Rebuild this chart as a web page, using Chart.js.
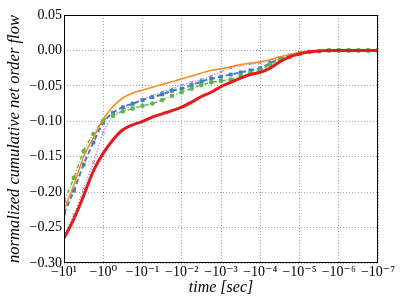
<!DOCTYPE html>
<html>
<head>
<meta charset="utf-8">
<script src="https://cdn.jsdelivr.net/npm/chart.js@4.4.1/dist/chart.umd.min.js"></script>
<style>
html, body { margin: 0; padding: 0; background: #fff; }
</style>
</head>
<body>
<canvas id="myChart" width="407" height="307"></canvas>
<script>
// x: exponent e of the time, t = -10^e sec
var timeExp = [1, 0.75, 0.5, 0.25, 0, -0.25, -0.5, -0.75, -1, -1.25, -1.5, -1.75, -2, -2.25, -2.5, -2.75, -3,
    -3.25, -3.5, -3.75, -4, -4.25, -4.5, -4.75, -5, -5.25, -5.5, -5.75, -6, -6.25, -6.5, -6.75, -7];

var redFlow = [-0.265, -0.238, -0.205, -0.170, -0.145, -0.126, -0.112, -0.105, -0.100, -0.094, -0.0895, -0.085, -0.080,
    -0.073, -0.065, -0.059, -0.051, -0.045, -0.039, -0.034, -0.031, -0.025, -0.016, -0.009, -0.005, -0.002, -0.001,
    0, 0, 0, 0, 0, 0];
var orangeFlow = [-0.225, -0.190, -0.150, -0.123, -0.097, -0.079, -0.067, -0.060, -0.056, -0.052, -0.048, -0.044, -0.040,
    -0.036, -0.032, -0.028, -0.026, -0.023, -0.020, -0.018, -0.016, -0.013, -0.009, -0.006, -0.003, -0.0015, -0.0005,
    0, 0, 0, 0, 0, 0];
var greenFlow = [-0.213, -0.180, -0.142, -0.118, -0.099, -0.092, -0.086, -0.082, -0.078, -0.075, -0.070, -0.064, -0.059,
    -0.054, -0.049, -0.045, -0.043, -0.041, -0.036, -0.032, -0.028, -0.020, -0.013, -0.009, -0.005, -0.002, -0.001,
    0, 0, 0, 0, 0, 0];
var blueFlow = [-0.230, -0.198, -0.161, -0.130, -0.102, -0.088, -0.080, -0.075, -0.070, -0.066, -0.062, -0.057, -0.054,
    -0.049, -0.044, -0.040, -0.037, -0.034, -0.031, -0.028, -0.025, -0.018, -0.012, -0.008, -0.004, -0.002, -0.001,
    0, 0, 0, 0, 0, 0];
var purpleFlow = [-0.262, -0.232, -0.195, -0.158, -0.116, -0.093, -0.084, -0.077, -0.069, -0.064, -0.059, -0.054, -0.049,
    -0.045, -0.041, -0.036, -0.030, -0.025, -0.021, -0.019, -0.018, -0.014, -0.010, -0.006, -0.003, -0.0015, -0.0005,
    0, 0, 0, 0, 0, 0];

var supers = {'0': '⁰', '1': '¹', '2': '²', '3': '³', '4': '⁴', '5': '⁵', '6': '⁶', '7': '⁷', '8': '⁸', '9': '⁹', '-': '⁻'};

function pts(ys) {
    var out = [];
    for (var i = 0; i < ys.length; i++) out.push({x: timeExp[i], y: ys[i]});
    return out;
}

// box round the plot, like matplotlib
var frame = {
    id: 'frame',
    afterDraw: function (chart) {
        var a = chart.chartArea, c = chart.ctx;
        c.save();
        c.strokeStyle = '#000';
        c.lineWidth = 1;
        c.strokeRect(Math.round(a.left) + 0.5, Math.round(a.top) + 0.5,
            Math.round(a.right - a.left) - 1, Math.round(a.bottom - a.top) - 1);
        c.restore();
    }
};

var serif = '"Liberation Serif", "DejaVu Serif", serif';
var gridCol = 'rgba(0,0,0,0.35)';

var config = {
    type: 'line',
    data: {
        datasets: [
            {data: pts(redFlow), borderColor: '#e8191c', backgroundColor: '#e8191c', borderWidth: 3, pointRadius: 0},
            {data: pts(orangeFlow), borderColor: '#ff8515', backgroundColor: '#ff8515', borderWidth: 1.5, pointRadius: 0},
            {data: pts(greenFlow), borderColor: '#5cb84e', backgroundColor: '#5cb84e', borderWidth: 1.5,
                borderDash: [4, 2, 1, 2], pointRadius: 1.6, pointStyle: 'circle'},
            {data: pts(blueFlow), borderColor: '#3f7ec4', backgroundColor: '#3f7ec4', borderWidth: 2,
                borderDash: [5, 3], pointRadius: 1.3, pointStyle: 'rect'},
            {data: pts(purpleFlow), borderColor: '#a77bc8', backgroundColor: '#a77bc8', borderWidth: 1.5,
                borderDash: [1, 2], pointRadius: 2, pointStyle: 'crossRot', pointBorderWidth: 1}
        ]
    },
    options: {
        responsive: false,
        animation: false,
        layout: {padding: {left: 0, right: 29, top: 15, bottom: 0}},
        plugins: {legend: {display: false}, tooltip: {enabled: false}},
        elements: {line: {cubicInterpolationMode: 'monotone'}},
        scales: {
            x: {
                type: 'linear', min: -7, max: 1, reverse: true,
                afterFit: function (s) { s.height = 44; },
                border: {display: false, dash: [1, 2]},
                grid: {color: gridCol, lineWidth: 1, drawTicks: false},
                ticks: {
                    stepSize: 1, padding: 1, color: '#000', maxRotation: 0,
                    font: {family: serif, size: 14},
                    callback: function (v) {
                        var s = String(Math.round(v)).split('').map(function (ch) { return supers[ch]; }).join('');
                        return '−10' + s;
                    }
                },
                title: {display: true, text: 'time [sec]', color: '#000',
                    font: {family: serif, size: 16, style: 'italic'}, padding: {top: 0, bottom: 10}}
            },
            y: {
                min: -0.30, max: 0.05,
                afterFit: function (s) { s.width = 64; },
                border: {display: false, dash: [1, 2]},
                grid: {color: gridCol, lineWidth: 1, drawTicks: false},
                ticks: {
                    stepSize: 0.05, padding: 2, color: '#000',
                    font: {family: serif, size: 14},
                    callback: function (v) {
                        if (Math.abs(v) < 1e-9) return '0.00';
                        return (v < 0 ? '−' : '') + Math.abs(v).toFixed(2);
                    }
                },
                title: {display: true, text: 'normalized cumulative net order flow', color: '#000',
                    font: {family: serif, size: 16.5, style: 'italic'}, padding: {top: 5, bottom: 0}}
            }
        }
    },
    plugins: [frame]
};

var myChart = new Chart(document.getElementById('myChart'), config);
</script>
</body>
</html>
